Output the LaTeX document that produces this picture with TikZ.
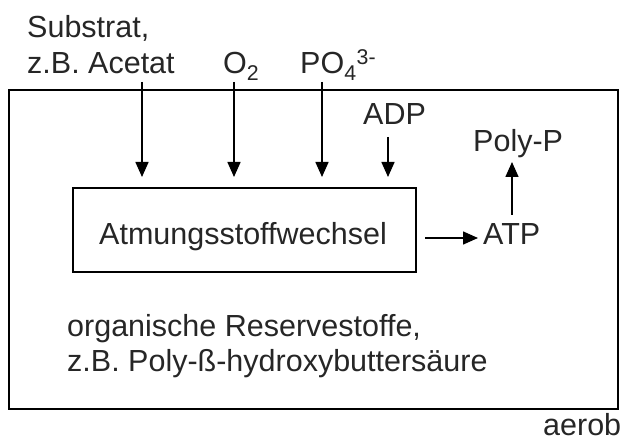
\documentclass[tikz,border=0pt]{standalone}
\usepackage{fontspec}
\setmainfont{Liberation Sans}
\usetikzlibrary{arrows.meta}
\tikzset{
  lbl/.style={anchor=base west, inner sep=0pt, font=\fontsize{30.5}{36}\selectfont, text=black!85},
  arr/.style={line width=1.5pt, -{Triangle[length=15pt,width=13pt]}},
  boxline/.style={line width=1.6pt}
}
\begin{document}
\begin{tikzpicture}[x=1pt,y=-1pt]
\useasboundingbox (0,0) rectangle (622,441);
% outer box
\draw[boxline] (9,90) rectangle (618,409);
% inner box
\node (box) [boxline, draw, minimum width=343pt, minimum height=84pt, inner sep=0pt] at (244.5,230) {};
\node (atm) [lbl] at (99,245) {Atmungsstoffwechsel};
% labels
\node (sub1) [lbl] at (27,38) {Substrat,};
\node (sub2) [lbl] at (27,74) {z.B. Acetat};
\node (o2) [lbl] at (223,74) {O\textsubscript{2}};
\node (po4) [lbl] at (300,74) {PO\textsubscript{4}\textsuperscript{3-}};
\node (adp) [lbl] at (363,125) {ADP};
\node (polyp) [lbl] at (473,152) {Poly-P};
\node (atp) [lbl] at (483,245) {ATP};
\node (org1) [lbl] at (67,337) {organische Reservestoffe,};
\node (org2) [lbl] at (67,371) {z.B. Poly-ß-hydroxybuttersäure};
\node (aer) [lbl] at (543,435) {aerob};
% arrows
\coordinate (a1s) at (142,82);  \coordinate (a1e) at (142,177);
\coordinate (a2s) at (234,82);  \coordinate (a2e) at (234,177);
\coordinate (a3s) at (322,82);  \coordinate (a3e) at (322,177);
\coordinate (a4s) at (388,137); \coordinate (a4e) at (388,177);
\draw[arr] (a1s) -- (a1e);
\draw[arr] (a2s) -- (a2e);
\draw[arr] (a3s) -- (a3e);
\draw[arr] (a4s) -- (a4e);
\coordinate (b1s) at (425,238); \coordinate (b1e) at (478,238);
\draw[arr] (b1s) -- (b1e);
\coordinate (c1s) at (512,215); \coordinate (c1e) at (512,162);
\draw[arr] (c1s) -- (c1e);
\end{tikzpicture}
\end{document}
